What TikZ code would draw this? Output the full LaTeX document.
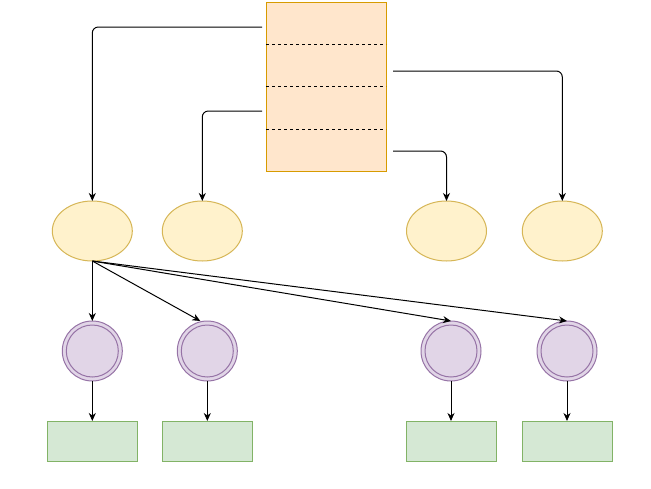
\documentclass[tikz,border=0pt]{standalone}
\usetikzlibrary{arrows.meta}
\definecolor{boxfill}{HTML}{FFE6CC}
\definecolor{boxline}{HTML}{D79B00}
\definecolor{ellfill}{HTML}{FFF2CC}
\definecolor{ellline}{HTML}{D6B656}
\definecolor{cirfill}{HTML}{E1D5E7}
\definecolor{cirline}{HTML}{9673A6}
\definecolor{recfill}{HTML}{D5E8D4}
\definecolor{recline}{HTML}{82B366}
\tikzset{
  bigbox/.style={draw=boxline,fill=boxfill,line width=1pt,minimum width=120pt,minimum height=169pt,inner sep=0pt,outer sep=0pt},
  ell/.style={draw=ellline,fill=ellfill,line width=1pt,ellipse,minimum width=80pt,minimum height=60pt,inner sep=0pt,outer sep=0pt},
  cir/.style={draw=cirline,fill=cirfill,line width=1pt,circle,minimum size=60pt,inner sep=0pt,outer sep=0pt},
  rec/.style={draw=recline,fill=recfill,line width=1pt,minimum width=90pt,minimum height=40pt,inner sep=0pt,outer sep=0pt},
  conn/.style={line width=1pt,-{Stealth[length=8pt,width=7pt,inset=2.5pt]}},
  elbow/.style={conn,rounded corners=6pt},
  sep/.style={line width=1pt,dash pattern=on 3pt off 3pt}
}
\usetikzlibrary{shapes.geometric}
\begin{document}
\begin{tikzpicture}[x=1pt,y=-1pt]
\useasboundingbox[fill=white] (0,0) rectangle (651,488);
% top compartment box
\node[bigbox] (box) at (326,86.5) {};
\coordinate (d1l) at (266,44.3); \coordinate (d1r) at (386,44.3);
\coordinate (d2l) at (266,86.3); \coordinate (d2r) at (386,86.3);
\coordinate (d3l) at (266,129.3); \coordinate (d3r) at (386,129.3);
\draw[sep] (d1l) -- (d1r);
\draw[sep] (d2l) -- (d2r);
\draw[sep] (d3l) -- (d3r);
% ellipses
\node[ell] (e1) at (92.3,231) {};
\node[ell] (e2) at (202.3,231) {};
\node[ell] (e3) at (446.5,231) {};
\node[ell] (e4) at (562.3,231) {};
% circles
\node[cir] (c1) at (92.3,351) {};
\node[cir] (c2) at (207.3,351) {};
\node[cir] (c3) at (451,351) {};
\node[cir] (c4) at (567,351) {};
\foreach \c in {c1,c2,c3,c4}{\draw[draw=cirline,line width=1pt] (\c.center) circle (26);}
% rectangles
\node[rec] (r1) at (92.3,441) {};
\node[rec] (r2) at (207.3,441) {};
\node[rec] (r3) at (451,441) {};
\node[rec] (r4) at (567,441) {};
% connector start points beside the box
\coordinate (s1) at (262,27);
\coordinate (s2) at (262,111);
\coordinate (s3) at (393,71);
\coordinate (s4) at (393,151);
\draw[elbow] (s1) -| (e1.north);
\draw[elbow] (s2) -| (e2.north);
\draw[elbow] (s3) -| (e4.north);
\draw[elbow] (s4) -| (e3.north);
% fan-out from first ellipse
\draw[conn] (e1.south) -- (c1.north);
\draw[conn] (e1.south) -- ([xshift=-7pt]c2.north);
\draw[conn] (e1.south) -- (c3.north);
\draw[conn] (e1.south) -- (c4.north);
% circles to rectangles
\draw[conn] (c1.south) -- (r1.north);
\draw[conn] (c2.south) -- (r2.north);
\draw[conn] (c3.south) -- (r3.north);
\draw[conn] (c4.south) -- (r4.north);
\end{tikzpicture}
\end{document}
